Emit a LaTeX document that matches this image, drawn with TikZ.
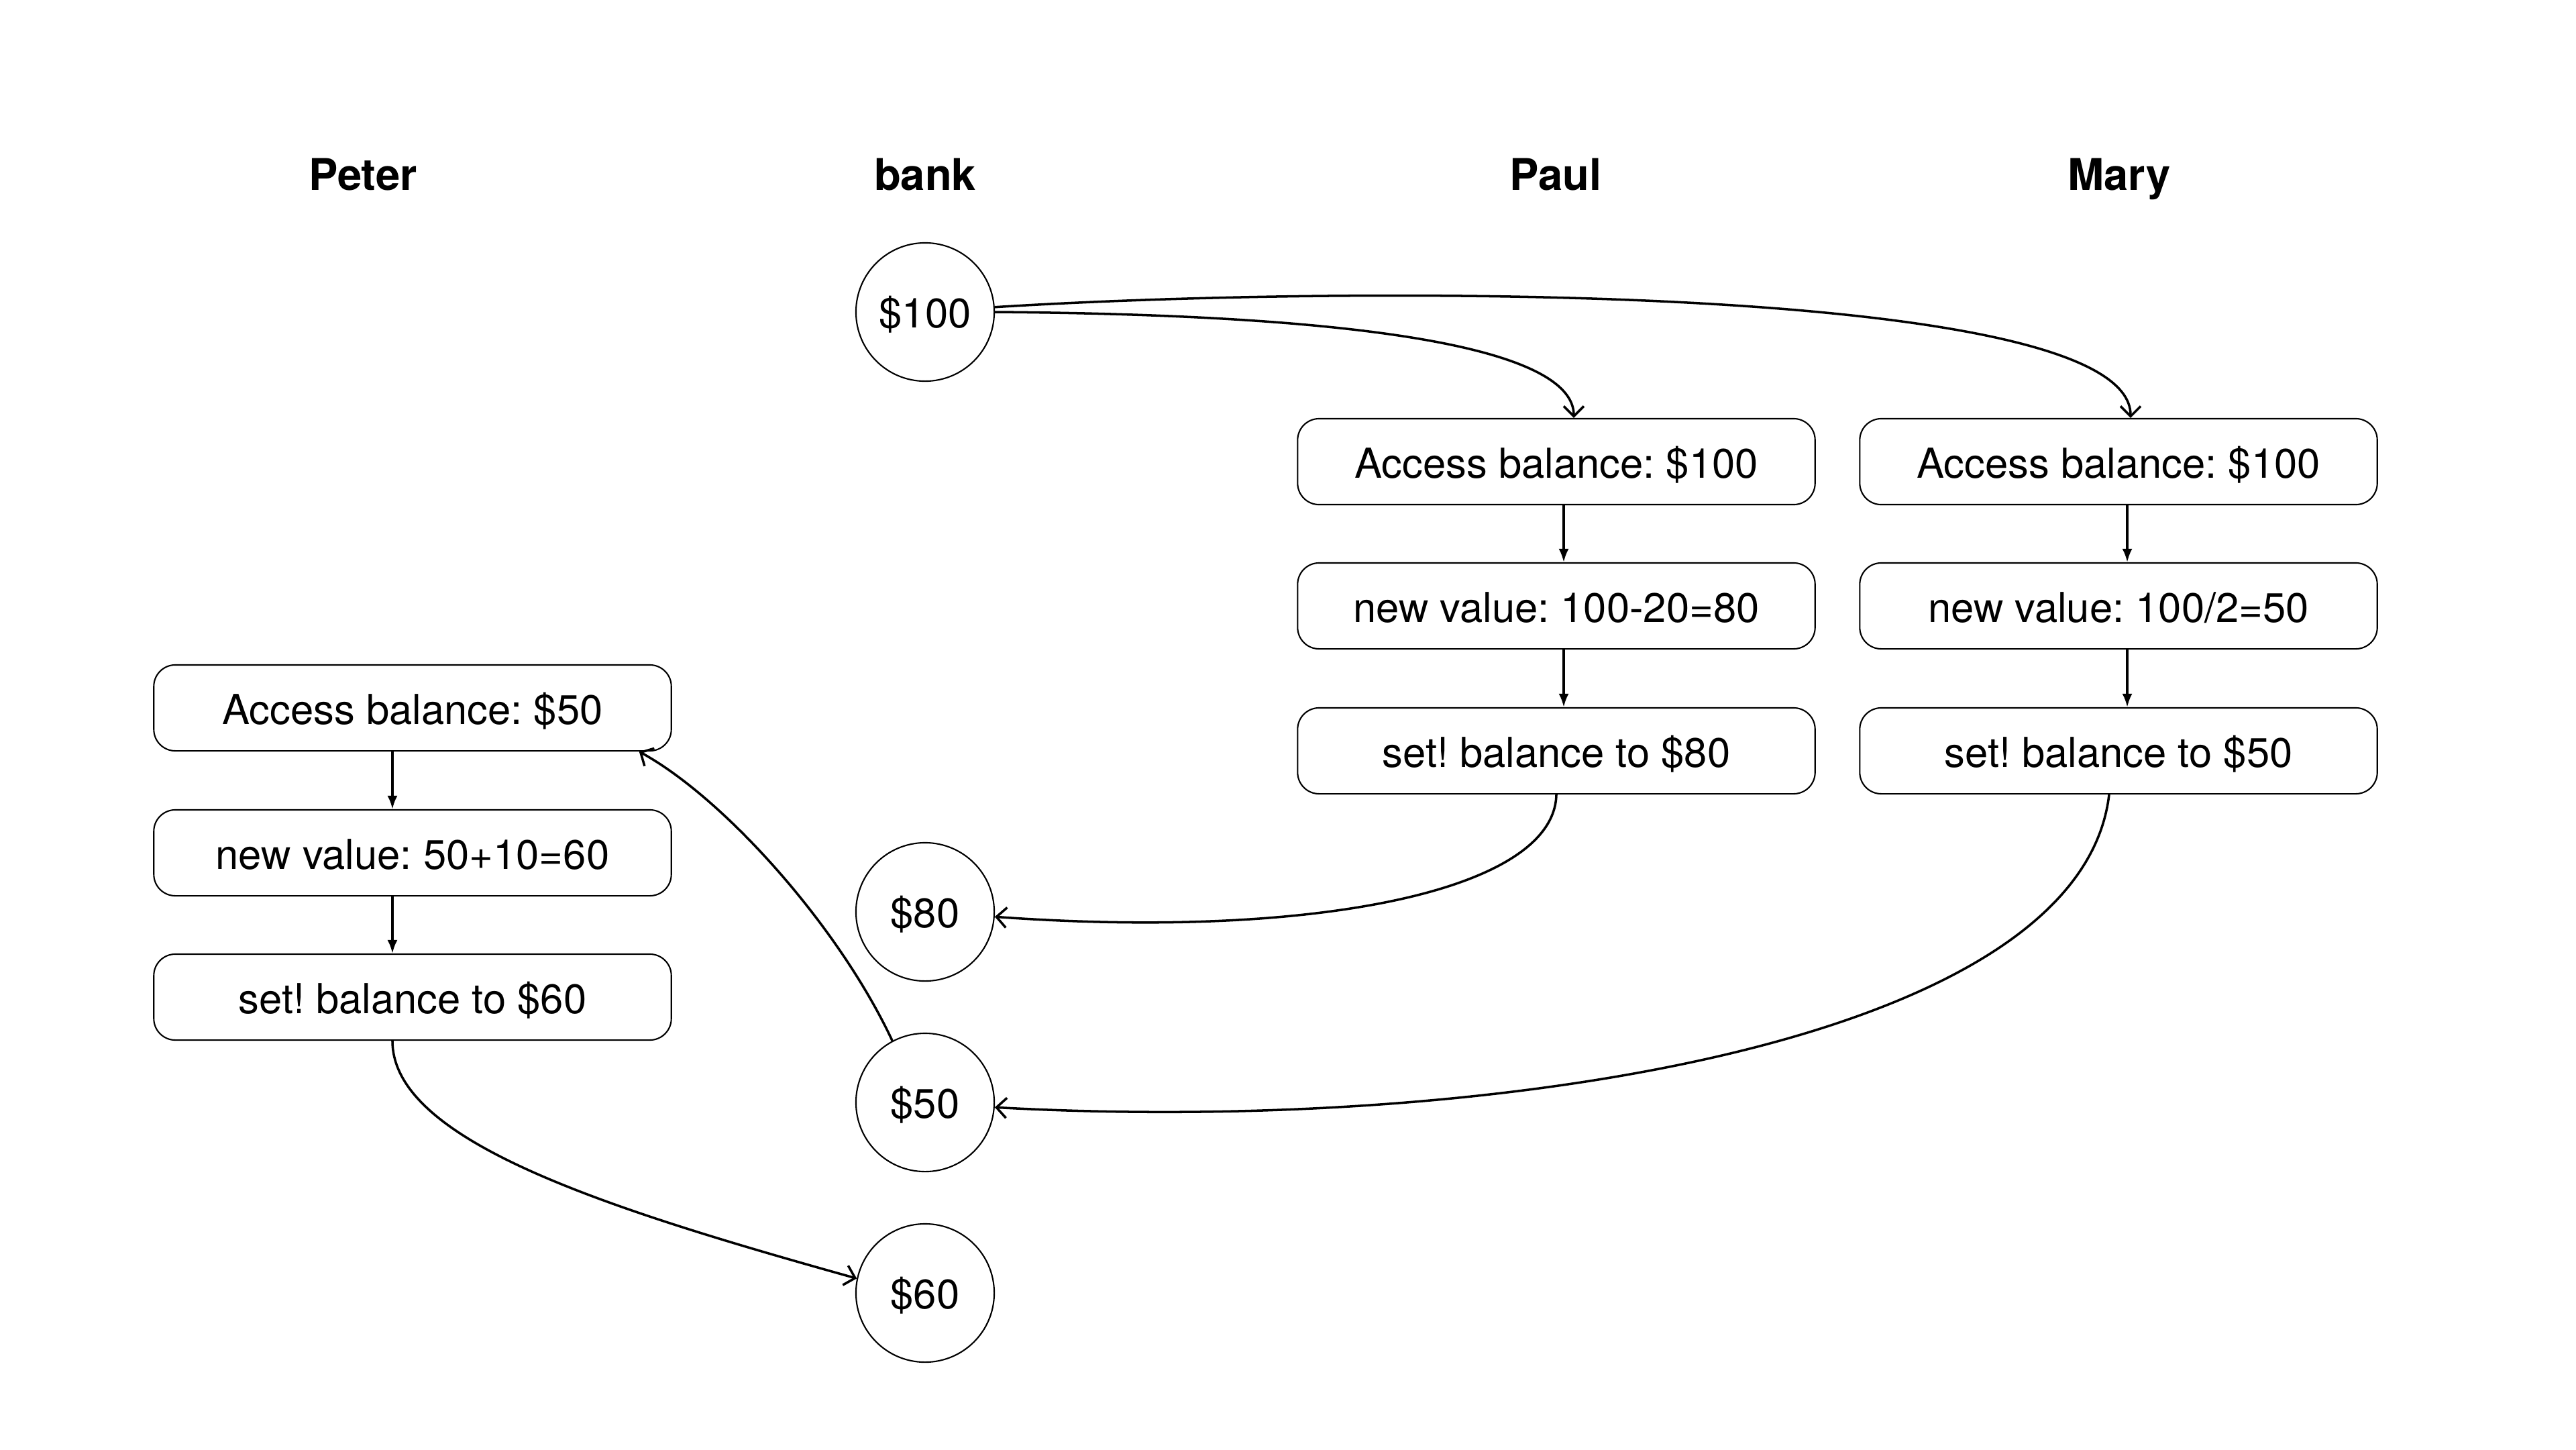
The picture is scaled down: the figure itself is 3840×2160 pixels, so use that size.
\documentclass[tikz,border=0pt]{standalone}
\usepackage{fontspec}
\setmainfont{TeX Gyre Heros}
\frenchspacing
\usetikzlibrary{arrows.meta}
\tikzset{
  stepbox/.style={draw, line width=0.6pt, rounded corners=0.32cm, minimum width=7.71cm, minimum height=1.28cm, inner sep=0pt, text height=14pt, text depth=0pt, font=\fontsize{17.5}{21}\selectfont},
  money/.style={draw, circle, line width=0.6pt, minimum size=2.06cm, inner sep=0pt, text height=13.6pt, text depth=0pt, font=\fontsize{17.5}{21}\selectfont},
  header/.style={anchor=base, font=\fontsize{18.5}{22}\selectfont\bfseries},
  flow/.style={line width=0.9pt, -{Latex[length=0.2cm,width=0.15cm]}},
  curve/.style={line width=1pt, -{Straight Barb[length=0.15cm,width=0.3cm]}}
}
\begin{document}
\begin{tikzpicture}[x=0.01cm,y=-0.01cm]
\useasboundingbox (0,0) rectangle (3840,2160);
% headers
\node[header] (hpeter) at (541,283) {Peter};
\node[header] (hbank) at (1379,283) {bank};
\node[header] (hpaul) at (2319,283) {Paul};
\node[header] (hmary) at (3159,283) {Mary};
% bank states
\node[money] (c100) at (1379,465) {\$100};
\node[money] (c80) at (1379,1359) {\$80};
\node[money] (c50) at (1379,1643) {\$50};
\node[money] (c60) at (1379,1927) {\$60};
% Paul
\node[stepbox] (pacc) at (2320,688) {Access balance: \$100};
\node[stepbox] (pnew) at (2320,903) {new value: 100-20=80};
\node[stepbox] (pset) at (2320,1119) {set! balance to \$80};
% Mary
\node[stepbox] (macc) at (3158,688) {Access balance: \$100};
\node[stepbox] (mnew) at (3158,903) {new value: 100/2=50};
\node[stepbox] (mset) at (3158,1119) {set! balance to \$50};
% Peter
\node[stepbox] (tacc) at (615,1055) {Access balance: \$50};
\node[stepbox] (tnew) at (615,1271) {new value: 50+10=60};
\node[stepbox] (tset) at (615,1486) {set! balance to \$60};
% vertical flows
\draw[flow] ([xshift=0.11cm]pacc.south) -- ([xshift=0.11cm]pnew.north);
\draw[flow] ([xshift=0.11cm]pnew.south) -- ([xshift=0.11cm]pset.north);
\draw[flow] ([xshift=0.13cm]macc.south) -- ([xshift=0.13cm]mnew.north);
\draw[flow] ([xshift=0.13cm]mnew.south) -- ([xshift=0.13cm]mset.north);
\draw[flow] ([xshift=-0.3cm]tacc.south) -- ([xshift=-0.3cm]tnew.north);
\draw[flow] ([xshift=-0.3cm]tnew.south) -- ([xshift=-0.3cm]tset.north);
% curved connectors
\draw[curve] (c100.east) .. controls (2150,470) and (2346,540) .. ([xshift=0.26cm]pacc.north);
\draw[curve] (c100.4) .. controls (2000,425) and (3176,420) .. ([xshift=0.18cm]macc.north);
\draw[curve] (pset.south) .. controls (2317,1330) and (1950,1400) .. (c80.-4);
\draw[curve] ([xshift=-0.14cm]mset.south) .. controls (3100,1560) and (2200,1690) .. (c50.-4);
\draw[curve] (c50.118) .. controls (1250,1380) and (1080,1190) .. ([xshift=-0.49cm]tacc.south east);
\draw[curve] ([xshift=-0.3cm]tset.south) .. controls (585,1700) and (900,1800) .. (c60.168);
\end{tikzpicture}
\end{document}
